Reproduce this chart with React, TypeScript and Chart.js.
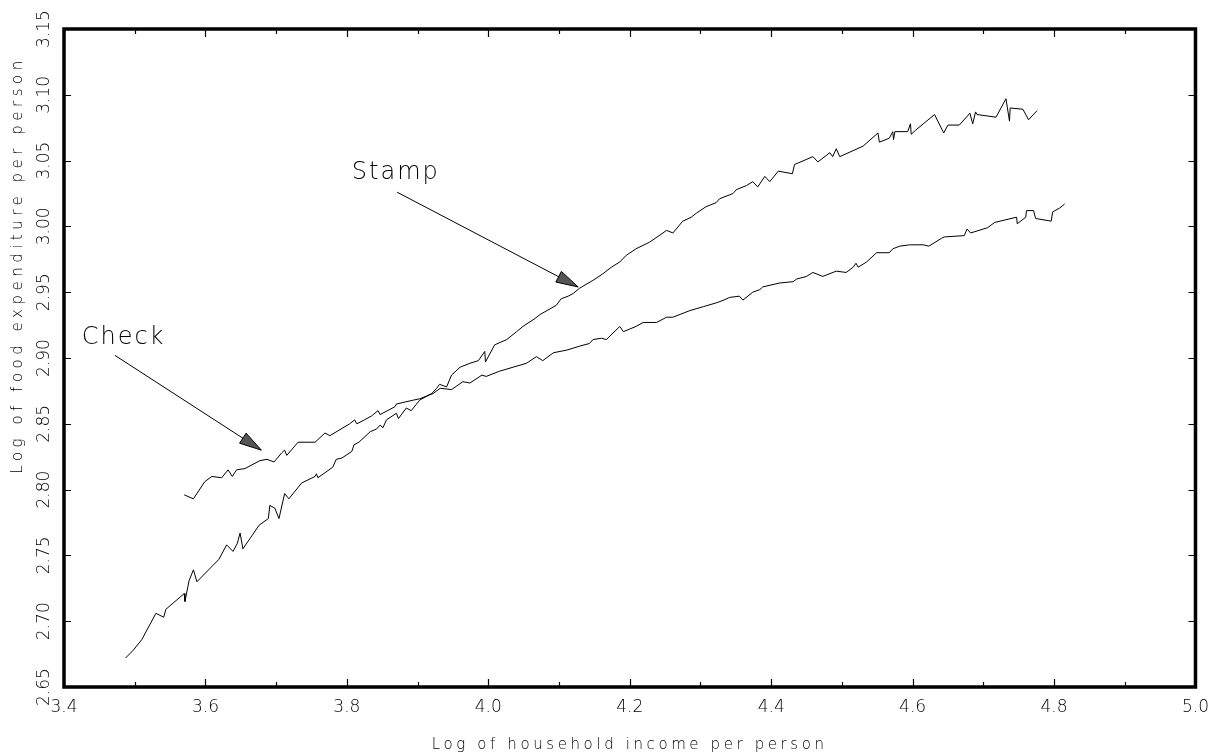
import React, { useEffect, useRef } from 'react';
import { Chart, registerables } from 'chart.js';

Chart.register(...registerables);

const xTitle = 'Log of household income per person';
const yTitle = 'Log of food expenditure per person';

const xTickValues = [3.4, 3.6, 3.8, 4.0, 4.2, 4.4, 4.6, 4.8, 5.0];
const xMinorValues = [3.5, 3.7, 3.9, 4.1, 4.3, 4.5, 4.7, 4.9];
const yTickValues = [2.65, 2.7, 2.75, 2.8, 2.85, 2.9, 2.95, 3.0, 3.05, 3.1, 3.15];

const stampX = [3.487,3.498,3.510,3.530,3.541,3.544,3.570,3.571,3.577,3.583,3.588,3.619,3.630,3.639,3.645,3.649,3.653,3.676,3.689,3.691,3.698,3.704,3.712,3.718,3.736,3.755,3.757,3.759,3.780,3.785,3.793,3.807,3.810,3.817,3.833,3.842,3.847,3.851,3.856,3.870,3.873,3.884,3.891,3.903,3.913,3.920,3.927,3.931,3.941,3.948,3.960,3.974,3.986,3.995,3.996,4.009,4.026,4.040,4.049,4.066,4.073,4.096,4.103,4.113,4.120,4.129,4.148,4.162,4.174,4.186,4.195,4.209,4.228,4.247,4.252,4.261,4.275,4.287,4.294,4.308,4.322,4.327,4.346,4.351,4.365,4.374,4.381,4.391,4.398,4.410,4.430,4.433,4.459,4.466,4.483,4.487,4.492,4.497,4.530,4.551,4.553,4.567,4.572,4.573,4.575,4.593,4.597,4.598,4.604,4.631,4.644,4.650,4.666,4.681,4.685,4.689,4.691,4.718,4.732,4.737,4.738,4.756,4.764,4.776];
const stampY = [2.672,2.678,2.686,2.706,2.703,2.709,2.721,2.715,2.731,2.739,2.730,2.747,2.758,2.753,2.759,2.767,2.755,2.773,2.778,2.788,2.786,2.778,2.797,2.793,2.805,2.810,2.812,2.809,2.817,2.823,2.824,2.829,2.834,2.836,2.844,2.846,2.849,2.847,2.853,2.858,2.854,2.862,2.860,2.868,2.871,2.873,2.877,2.880,2.878,2.887,2.893,2.896,2.898,2.905,2.897,2.910,2.914,2.920,2.924,2.930,2.933,2.940,2.945,2.947,2.949,2.953,2.959,2.964,2.969,2.973,2.978,2.983,2.988,2.995,2.997,2.995,3.004,3.007,3.010,3.015,3.018,3.021,3.025,3.028,3.031,3.034,3.030,3.038,3.034,3.042,3.040,3.047,3.053,3.049,3.056,3.053,3.059,3.053,3.061,3.071,3.064,3.067,3.072,3.066,3.072,3.072,3.078,3.070,3.073,3.085,3.071,3.077,3.077,3.086,3.078,3.087,3.085,3.083,3.097,3.080,3.090,3.089,3.081,3.088];

const checkX = [3.570,3.583,3.599,3.609,3.623,3.632,3.638,3.644,3.656,3.677,3.687,3.697,3.708,3.712,3.715,3.731,3.755,3.769,3.776,3.804,3.811,3.814,3.825,3.835,3.844,3.847,3.868,3.870,3.894,3.903,3.917,3.922,3.932,3.948,3.964,3.974,3.991,3.997,4.016,4.035,4.054,4.068,4.077,4.092,4.111,4.129,4.143,4.148,4.160,4.167,4.186,4.191,4.209,4.219,4.238,4.252,4.261,4.285,4.304,4.323,4.333,4.341,4.355,4.360,4.374,4.384,4.388,4.412,4.431,4.436,4.450,4.459,4.473,4.492,4.506,4.516,4.520,4.523,4.535,4.549,4.567,4.572,4.582,4.596,4.615,4.623,4.641,4.645,4.673,4.677,4.682,4.706,4.716,4.747,4.748,4.760,4.761,4.771,4.774,4.796,4.798,4.808,4.815];
const checkY = [2.796,2.793,2.806,2.810,2.809,2.815,2.810,2.815,2.816,2.822,2.823,2.821,2.828,2.830,2.826,2.836,2.836,2.843,2.841,2.850,2.853,2.850,2.853,2.856,2.860,2.857,2.863,2.865,2.868,2.869,2.872,2.873,2.877,2.876,2.882,2.881,2.887,2.886,2.890,2.893,2.896,2.901,2.898,2.904,2.906,2.909,2.911,2.914,2.915,2.914,2.924,2.920,2.924,2.927,2.927,2.931,2.931,2.936,2.939,2.942,2.944,2.946,2.947,2.944,2.950,2.952,2.954,2.957,2.958,2.960,2.962,2.965,2.962,2.966,2.965,2.969,2.972,2.969,2.973,2.980,2.980,2.983,2.985,2.986,2.986,2.985,2.991,2.992,2.993,2.998,2.995,2.999,3.003,3.007,3.002,3.007,3.012,3.012,3.006,3.004,3.011,3.014,3.017];

// annotations: label text, label anchor (data units), arrow from -> to (data units)
const stampLabel = 'Stamp';
const stampLabelAt = [3.807, 3.041];
const stampArrow = [3.871, 3.026, 4.127, 2.954];
const checkLabel = 'Check';
const checkLabelAt = [3.425, 2.915];
const checkArrow = [3.472, 2.902, 3.679, 2.830];

const FONT = '"DejaVu Sans", "Liberation Sans", sans-serif';

const framePlugin = {
  id: 'framePlugin',
  afterDatasetsDraw(chart: any) {
    const { ctx, chartArea: a, scales } = chart;
    const xs = scales.x, ys = scales.y;
    ctx.save();
    ctx.strokeStyle = '#000';
    ctx.lineWidth = 1.2;
    // inward ticks
    ctx.beginPath();
    for (const v of xTickValues) {
      const p = Math.round(xs.getPixelForValue(v)) + 0.5;
      ctx.moveTo(p, a.bottom); ctx.lineTo(p, a.bottom - 8);
      ctx.moveTo(p, a.top); ctx.lineTo(p, a.top + 8);
    }
    for (const v of xMinorValues) {
      const p = Math.round(xs.getPixelForValue(v)) + 0.5;
      ctx.moveTo(p, a.bottom); ctx.lineTo(p, a.bottom - 5);
      ctx.moveTo(p, a.top); ctx.lineTo(p, a.top + 5);
    }
    for (const v of yTickValues) {
      const p = Math.round(ys.getPixelForValue(v)) + 0.5;
      ctx.moveTo(a.left, p); ctx.lineTo(a.left + 7, p);
      ctx.moveTo(a.right, p); ctx.lineTo(a.right - 7, p);
    }
    ctx.stroke();
    // frame
    ctx.lineWidth = 3.5;
    ctx.strokeRect(a.left, a.top, a.right - a.left, a.bottom - a.top);

    // annotations
    const drawArrow = (arr: number[]) => {
      const x1 = xs.getPixelForValue(arr[0]), y1 = ys.getPixelForValue(arr[1]);
      const x2 = xs.getPixelForValue(arr[2]), y2 = ys.getPixelForValue(arr[3]);
      ctx.lineWidth = 1;
      ctx.beginPath(); ctx.moveTo(x1, y1); ctx.lineTo(x2, y2); ctx.stroke();
      const ang = Math.atan2(y2 - y1, x2 - x1);
      const L = 22, W = 6;
      const bx = x2 - L * Math.cos(ang), by = y2 - L * Math.sin(ang);
      const nx = -Math.sin(ang), ny = Math.cos(ang);
      ctx.beginPath();
      ctx.moveTo(x2, y2);
      ctx.lineTo(bx + nx * W, by + ny * W);
      ctx.lineTo(bx - nx * W, by - ny * W);
      ctx.closePath();
      ctx.fillStyle = '#555';
      ctx.fill();
      ctx.strokeStyle = '#000';
      ctx.stroke();
    };
    drawArrow(stampArrow);
    drawArrow(checkArrow);

    ctx.fillStyle = '#000';
    (ctx as any).letterSpacing = '2px';
    ctx.font = `200 24px ${FONT}`;
    ctx.textAlign = 'left';
    ctx.textBaseline = 'middle';
    ctx.fillText(stampLabel, xs.getPixelForValue(stampLabelAt[0]), ys.getPixelForValue(stampLabelAt[1]));
    ctx.fillText(checkLabel, xs.getPixelForValue(checkLabelAt[0]), ys.getPixelForValue(checkLabelAt[1]));

    // axis titles
    ctx.font = `200 15px ${FONT}`;
    (ctx as any).letterSpacing = '3.6px';
    ctx.textAlign = 'center';
    ctx.fillText(xTitle, (a.left + a.right) / 2, 745);
    ctx.save();
    ctx.translate(18, 265);
    ctx.rotate(-Math.PI / 2);
    (ctx as any).letterSpacing = '4.5px';
    ctx.fillText(yTitle, 0, 0);
    ctx.restore();
    ctx.restore();
  },
};

export default function App() {
  const ref = useRef<HTMLCanvasElement | null>(null);
  useEffect(() => {
    if (!ref.current) return;
    const chart = new Chart(ref.current, {
      type: 'scatter',
      data: {
        datasets: [
          {
            label: stampLabel,
            data: stampX.map((x, i) => ({ x, y: stampY[i] })),
            showLine: true,
            borderColor: '#000',
            borderWidth: 1,
            pointRadius: 0,
            tension: 0,
          },
          {
            label: checkLabel,
            data: checkX.map((x, i) => ({ x, y: checkY[i] })),
            showLine: true,
            borderColor: '#000',
            borderWidth: 1,
            pointRadius: 0,
            tension: 0,
          },
        ],
      },
      options: {
        animation: false,
        responsive: false,
        layout: { padding: { left: 0, right: 23, top: 29, bottom: 0 } },
        plugins: { legend: { display: false }, tooltip: { enabled: false } },
        scales: {
          x: {
            type: 'linear',
            min: 3.4,
            max: 5.0,
            grid: { display: false, drawTicks: false },
            border: { display: false },
            afterBuildTicks: (s: any) => { s.ticks = xTickValues.map((v) => ({ value: v })); },
            afterFit: (s: any) => { s.height = 68; },
            ticks: {
              padding: 10,
              color: '#000',
              maxRotation: 0,
              autoSkip: false,
              font: { family: FONT, size: 17, weight: '200' },
              callback: (v: any) => Number(v).toFixed(1),
            },
          },
          y: {
            type: 'linear',
            min: 2.65,
            max: 3.15,
            grid: { display: false, drawTicks: false },
            border: { display: false },
            afterBuildTicks: (s: any) => { s.ticks = yTickValues.map((v) => ({ value: v })); },
            afterFit: (s: any) => { s.width = 64; },
            ticks: {
              padding: 0,
              color: '#000',
              minRotation: 90,
              maxRotation: 90,
              crossAlign: 'center',
              autoSkip: false,
              font: { family: FONT, size: 17, weight: '200' },
              callback: (v: any) => Number(v).toFixed(2),
            },
          },
        },
      },
      plugins: [framePlugin],
    } as any);
    return () => chart.destroy();
  }, []);
  return (
    <div style={{ position: 'absolute', left: 0, top: 0, width: 1219, height: 755, background: '#fff' }}>
      <canvas ref={ref} width={1219} height={755} style={{ display: 'block', width: 1219, height: 755 }} />
    </div>
  );
}
